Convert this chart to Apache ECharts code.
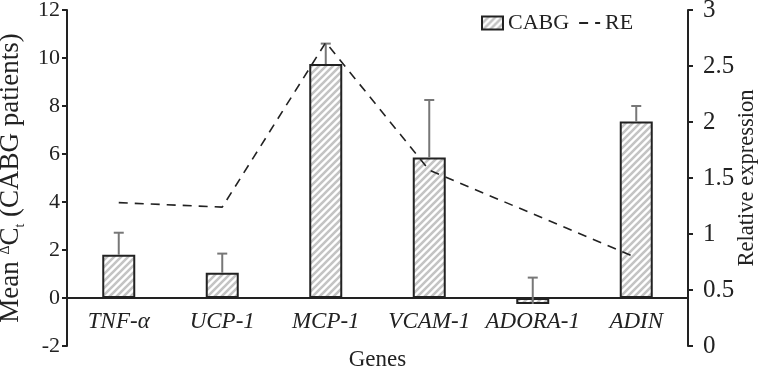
<!DOCTYPE html>
<html><head><meta charset="utf-8">
<script src="https://cdn.jsdelivr.net/npm/echarts@6/dist/echarts.min.js"></script>
<style>html,body{margin:0;padding:0;background:#fff}#c{width:767px;height:370px}</style>
</head><body><div id="c"></div>
<script>
var categories = ['TNF-\u03b1', 'UCP-1', 'MCP-1', 'VCAM-1', 'ADORA-1', 'ADIN'];
var cabgMean = [1.8, 1.05, 9.75, 5.85, -0.25, 7.35];
var cabgErrTop = [2.72, 1.85, 10.6, 8.25, 0.85, 8.0];
var reValues = [1.28, 1.24, 2.71, 1.57, 1.18, 0.79];

var FONT = '"Liberation Serif", "Times New Roman", serif';

var pc = document.createElement('canvas');
pc.width = 7; pc.height = 7;
var g = pc.getContext('2d');
g.fillStyle = '#ffffff'; g.fillRect(0, 0, 7, 7);
g.strokeStyle = '#c4c4c4'; g.lineWidth = 2.6;
g.beginPath();
g.moveTo(-1, 8); g.lineTo(8, -1);
g.moveTo(-4.5, 4.5); g.lineTo(4.5, -4.5);
g.moveTo(2.5, 11.5); g.lineTo(11.5, 2.5);
g.stroke();

var chart = echarts.init(document.getElementById('c'), null, {renderer: 'canvas'});
chart.setOption({
  animation: false,
  backgroundColor: '#fff',
  grid: {left: 67, right: 79, top: 10, bottom: 24, containLabel: false, outerBoundsMode: 'none'},
  legend: {
    top: 7, left: 476, itemWidth: 21, itemHeight: 13, itemGap: 9,
    textStyle: {fontFamily: FONT, fontSize: 22, color: '#222'},
    data: [{name: 'CABG', icon: 'rect'}, {name: 'RE', itemStyle: {opacity: 0}}]
  },
  xAxis: {
    type: 'category', data: categories,
    axisLine: {onZero: true, onZeroAxisIndex: 0, lineStyle: {color: '#222', width: 2}},
    axisTick: {show: false},
    axisLabel: {fontFamily: FONT, fontSize: 23, fontStyle: 'italic', color: '#222', margin: -36, interval: 0},
    name: 'Genes', nameLocation: 'middle', nameGap: 2,
    nameTextStyle: {fontFamily: FONT, fontSize: 23, color: '#222'}
  },
  yAxis: [{
    type: 'value', min: -2, max: 12, interval: 2, position: 'left',
    axisLine: {show: true, onZero: false, lineStyle: {color: '#222', width: 2}},
    axisTick: {show: true, length: 5, lineStyle: {width: 2}},
    splitLine: {show: false},
    axisLabel: {fontFamily: FONT, fontSize: 22, color: '#222', margin: 7},
    name: 'Mean {sup|\u0394}C{sub|t} (CABG patients)', nameLocation: 'middle', nameGap: 40,
    nameTextStyle: {
      fontFamily: FONT, fontSize: 27, color: '#222', lineHeight: 32,
      rich: {
        sup: {fontFamily: FONT, fontSize: 14, color: '#222', verticalAlign: 'top', lineHeight: 32, padding: [3, 0, 0, 0]},
        sub: {fontFamily: FONT, fontSize: 14, color: '#222', verticalAlign: 'bottom', lineHeight: 32, padding: [0, 0, 0, 0]}
      }
    }
  }, {
    type: 'value', min: 0, max: 3, interval: 0.5, position: 'right',
    axisLine: {show: true, onZero: false, lineStyle: {color: '#222', width: 2}},
    axisTick: {show: true, length: 5, lineStyle: {width: 2}},
    splitLine: {show: false},
    axisLabel: {fontFamily: FONT, fontSize: 25, color: '#222', margin: 15},
    name: 'Relative expression', nameLocation: 'middle', nameGap: 48, nameRotate: 90,
    nameMoveOverlap: false,
    nameTextStyle: {fontFamily: FONT, fontSize: 22.5, color: '#222'}
  }],
  series: [{
    name: 'CABG', type: 'bar', yAxisIndex: 0, data: cabgMean, barWidth: 33,
    itemStyle: {color: {image: pc, repeat: 'repeat'}, borderColor: '#222', borderWidth: 2}
  }, {
    name: 'errors', type: 'custom', yAxisIndex: 0, z: 5,
    data: cabgMean.map(function (v, i) { return [i, v, cabgErrTop[i]]; }),
    renderItem: function (params, api) {
      var base = api.coord([api.value(0), api.value(1)]);
      var top = api.coord([api.value(0), api.value(2)]);
      var st = {stroke: '#777', lineWidth: 2};
      return {type: 'group', children: [
        {type: 'line', shape: {x1: base[0], y1: base[1], x2: top[0], y2: top[1]}, style: st},
        {type: 'line', shape: {x1: top[0] - 5, y1: top[1], x2: top[0] + 5, y2: top[1]}, style: st}
      ]};
    }
  }, {
    name: 'RE', type: 'line', yAxisIndex: 1, data: reValues, z: 6,
    symbol: 'none', showSymbol: false,
    lineStyle: {color: '#222', width: 1.6, type: [9, 7]},
    itemStyle: {color: '#222'}
  }]
});
</script>
</body></html>
